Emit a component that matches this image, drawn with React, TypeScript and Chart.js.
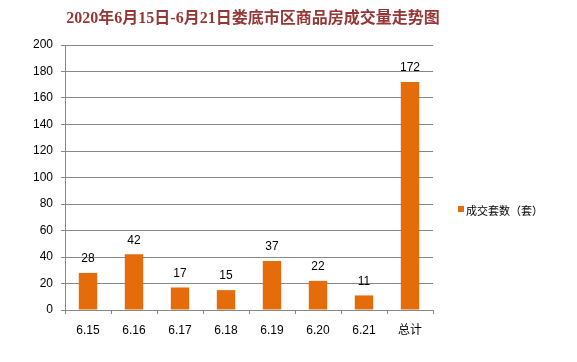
import React, { useEffect, useRef } from "react";
import { Chart, registerables } from "chart.js";

Chart.register(...registerables);

const titleText = "2020年6月15日-6月21日娄底市区商品房成交量走势图";
const categories = ["6.15", "6.16", "6.17", "6.18", "6.19", "6.20", "6.21", "总计"];
const seriesName = "成交套数（套）";
const seriesValues = [28, 42, 17, 15, 37, 22, 11, 172];
const yMin = 0;
const yMax = 200;
const yStep = 20;

const BAR_COLOR = "#E46C0A";
const GRID_COLOR = "#878787";
const TITLE_COLOR = "#953735";
const LABEL_FONT = '12px "Liberation Sans", "Noto Sans CJK SC", sans-serif';

const decorPlugin = {
  id: "decor",
  afterDatasetsDraw(chart: any) {
    const ctx = chart.ctx;
    ctx.save();
    // value labels
    const meta = chart.getDatasetMeta(0);
    ctx.fillStyle = "#000";
    ctx.font = LABEL_FONT;
    ctx.textAlign = "center";
    ctx.textBaseline = "bottom";
    meta.data.forEach((el: any, i: number) => {
      ctx.fillText(String(seriesValues[i]), el.x, el.y - 8);
    });
    // title
    ctx.fillStyle = TITLE_COLOR;
    ctx.font = 'bold 16px "Liberation Serif", "Noto Sans CJK SC", serif';
    ctx.textAlign = "center";
    ctx.textBaseline = "middle";
    ctx.fillText(titleText, 253, 19);
    // legend
    ctx.fillStyle = BAR_COLOR;
    ctx.fillRect(458, 206, 6, 6);
    ctx.fillStyle = "#000";
    ctx.font = '11px "Noto Sans CJK SC", sans-serif';
    ctx.textAlign = "left";
    ctx.textBaseline = "middle";
    ctx.fillText(seriesName, 466, 211);
    ctx.restore();
  },
};

export default function App() {
  const ref = useRef<HTMLCanvasElement>(null);
  useEffect(() => {
    if (!ref.current) return;
    const chart = new Chart(ref.current, {
      type: "bar",
      data: {
        labels: categories,
        datasets: [
          {
            label: seriesName,
            data: seriesValues,
            backgroundColor: BAR_COLOR,
            borderWidth: 0,
            categoryPercentage: 1,
            barPercentage: 0.4,
          },
        ],
      },
      options: {
        responsive: false,
        animation: false,
        layout: { padding: { top: 45, left: 0, right: 144, bottom: 0 } },
        plugins: {
          legend: { display: false },
          title: { display: false },
          tooltip: { enabled: false },
        },
        scales: {
          x: {
            offset: true,
            grid: {
              offset: true,
              drawOnChartArea: false,
              drawTicks: true,
              tickLength: 4,
              color: GRID_COLOR,
            },
            border: { display: true, color: GRID_COLOR },
            ticks: {
              color: "#000",
              font: { family: '"Liberation Sans", "Noto Sans CJK SC", sans-serif', size: 12 },
              padding: 9,
              maxRotation: 0,
              autoSkip: false,
            },
            afterFit: (scale: any) => {
              scale.height = 52;
            },
          },
          y: {
            min: yMin,
            max: yMax,
            grid: {
              color: GRID_COLOR,
              drawTicks: true,
              tickLength: 4,
            },
            border: { display: true, color: GRID_COLOR },
            ticks: {
              stepSize: yStep,
              color: "#000",
              font: { family: '"Liberation Sans", sans-serif', size: 12 },
              padding: 8,
            },
            afterFit: (scale: any) => {
              scale.width = 65;
            },
          },
        },
      },
      plugins: [decorPlugin],
    });
    return () => chart.destroy();
  }, []);
  return (
    <div style={{ position: "fixed", left: 0, top: 0, width: 577, height: 362, background: "#fff" }}>
      <canvas ref={ref} width={577} height={362} />
    </div>
  );
}
